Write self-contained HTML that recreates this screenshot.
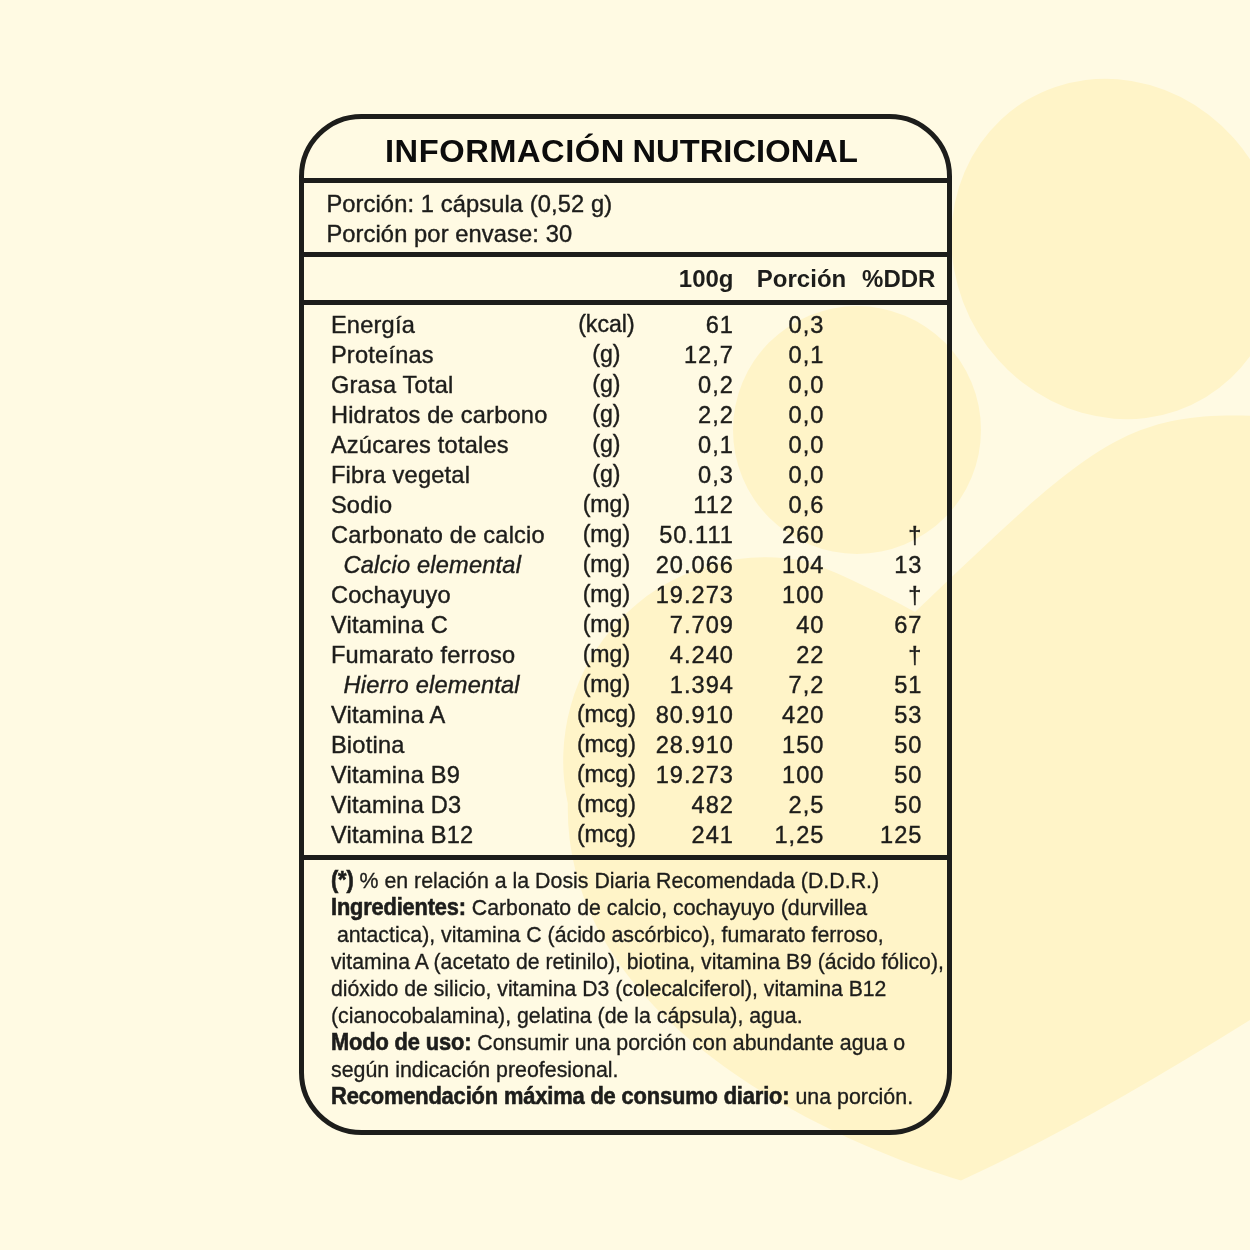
<!DOCTYPE html>
<html lang="es">
<head>
<meta charset="utf-8">
<title>Información Nutricional</title>
<style>
  html, body { margin: 0; padding: 0; }
  body {
    width: 1250px; height: 1250px; overflow: hidden; position: relative;
    background: #fffae3;
    font-family: "Liberation Sans", sans-serif;
    color: #1d1d1b;
  }
  svg.bg { position: absolute; left: 0; top: 0; width: 1250px; height: 1250px; display: block; }
  .card {
    position: absolute; left: 299.3px; top: 113.8px; width: 652.8px; height: 1021.2px;
    box-sizing: border-box; border: 5px solid #1d1d1b; border-radius: 62.5px;
  }
  .rule { position: absolute; left: 302px; width: 648px; height: 4.9px; background: #1d1d1b; }
  .t { position: absolute; white-space: pre; margin: 0; }
  h1.t {
    left: 385.2px; top: 130.9px; height: 40px; line-height: 40px;
    font-size: 30.5px; font-weight: 700; color: #0c0c0c; word-spacing: -1.5px;
    transform: scaleX(1.0706); transform-origin: 0 0;
  }
  h1 .w1 { letter-spacing: 0.5px; }
  h1 .w2 { letter-spacing: 0.06px; }
  .serving { left: 326.4px; font-size: 23.7px; line-height: 30px; height: 30px; letter-spacing: 0.1px; -webkit-text-stroke: 0.4px #1d1d1b; }
  .hd { font-size: 24px; font-weight: 700; line-height: 30px; height: 30px; top: 263.7px; text-align: right; }
  .row { position: absolute; left: 0; width: 1250px; height: 30px; line-height: 30px; font-size: 23.6px; -webkit-text-stroke: 0.4px #1d1d1b; }
  .row span { position: absolute; top: 0; white-space: pre; }
  .row .n { left: 330.9px; letter-spacing: 0.22px; }
  .row .n.i { left: 343.5px; font-style: italic; letter-spacing: 0.2px; }
  .row .u { left: 546.4px; width: 120px; text-align: center; top: -1.4px; font-size: 23.1px; }
  .row .a, .row .b, .row .c { text-align: right; letter-spacing: 1.0px; }
  .row .a { right: 516.1px; }
  .row .b { right: 425.6px; }
  .row .c { right: 327.6px; }
  .foot {
    position: absolute; left: 331.2px; top: 866.9px; width: 700px;
    font-size: 22.9px; line-height: 27px; -webkit-text-stroke: 0.35px #1d1d1b;
  }
  .fl { height: 27px; white-space: pre; transform-origin: 0 0; }
  .foot b { font-weight: 700; font-size: 23.4px; letter-spacing: -0.15px; -webkit-text-stroke: 0.6px #1d1d1b; }
</style>
</head>
<body>
<svg class="bg" viewBox="0 0 1250 1250" aria-hidden="true">
  <g fill="#fff4c8">
    <ellipse cx="1115.9" cy="248.9" rx="173.4" ry="161.3" transform="rotate(58.8 1115.9 248.9)"/>
    <circle cx="857" cy="430" r="124"/>
    <path d="M915 612 C1095.3 439.7 1126.9 408.7 1270 416.6 L1270 1007.4 Q1081 1126.4 961 1180.4 C864.5 1152.8 563.6 1034.6 567.8 803.5 A203.3 203.3 0 0 1 800 560 C819.7 563.3 880 592.7 915 612 Z"/>
  </g>
</svg>

<div class="card"></div>
<div class="rule" style="top:178.3px"></div>
<div class="rule" style="top:251.9px"></div>
<div class="rule" style="top:300.2px"></div>
<div class="rule" style="top:854.8px"></div>

<h1 class="t"><span class="w1">INFORMACIÓN</span> <span class="w2">NUTRICIONAL</span></h1>

<p class="t serving" style="top:189.1px">Porción: 1 cápsula (0,52 g)</p>
<p class="t serving" style="top:219.1px">Porción por envase: 30</p>

<div class="t hd" style="right:516.5px">100g</div>
<div class="t hd" style="right:403.8px">Porción</div>
<div class="t hd" style="right:314.6px">%DDR</div>

<div class="row" style="top:310.25px"><span class="n">Energía</span><span class="u">(kcal)</span><span class="a">61</span><span class="b">0,3</span></div>
<div class="row" style="top:340.25px"><span class="n">Proteínas</span><span class="u">(g)</span><span class="a">12,7</span><span class="b">0,1</span></div>
<div class="row" style="top:370.25px"><span class="n">Grasa Total</span><span class="u">(g)</span><span class="a">0,2</span><span class="b">0,0</span></div>
<div class="row" style="top:400.25px"><span class="n">Hidratos de carbono</span><span class="u">(g)</span><span class="a">2,2</span><span class="b">0,0</span></div>
<div class="row" style="top:430.25px"><span class="n">Azúcares totales</span><span class="u">(g)</span><span class="a">0,1</span><span class="b">0,0</span></div>
<div class="row" style="top:460.25px"><span class="n">Fibra vegetal</span><span class="u">(g)</span><span class="a">0,3</span><span class="b">0,0</span></div>
<div class="row" style="top:490.25px"><span class="n">Sodio</span><span class="u">(mg)</span><span class="a">112</span><span class="b">0,6</span></div>
<div class="row" style="top:520.25px"><span class="n">Carbonato de calcio</span><span class="u">(mg)</span><span class="a">50.111</span><span class="b">260</span><span class="c">†</span></div>
<div class="row" style="top:550.25px"><span class="n i">Calcio elemental</span><span class="u">(mg)</span><span class="a">20.066</span><span class="b">104</span><span class="c">13</span></div>
<div class="row" style="top:580.25px"><span class="n">Cochayuyo</span><span class="u">(mg)</span><span class="a">19.273</span><span class="b">100</span><span class="c">†</span></div>
<div class="row" style="top:610.25px"><span class="n">Vitamina C</span><span class="u">(mg)</span><span class="a">7.709</span><span class="b">40</span><span class="c">67</span></div>
<div class="row" style="top:640.25px"><span class="n">Fumarato ferroso</span><span class="u">(mg)</span><span class="a">4.240</span><span class="b">22</span><span class="c">†</span></div>
<div class="row" style="top:670.25px"><span class="n i">Hierro elemental</span><span class="u">(mg)</span><span class="a">1.394</span><span class="b">7,2</span><span class="c">51</span></div>
<div class="row" style="top:700.25px"><span class="n">Vitamina A</span><span class="u">(mcg)</span><span class="a">80.910</span><span class="b">420</span><span class="c">53</span></div>
<div class="row" style="top:730.25px"><span class="n">Biotina</span><span class="u">(mcg)</span><span class="a">28.910</span><span class="b">150</span><span class="c">50</span></div>
<div class="row" style="top:760.25px"><span class="n">Vitamina B9</span><span class="u">(mcg)</span><span class="a">19.273</span><span class="b">100</span><span class="c">50</span></div>
<div class="row" style="top:790.25px"><span class="n">Vitamina D3</span><span class="u">(mcg)</span><span class="a">482</span><span class="b">2,5</span><span class="c">50</span></div>
<div class="row" style="top:820.25px"><span class="n">Vitamina B12</span><span class="u">(mcg)</span><span class="a">241</span><span class="b">1,25</span><span class="c">125</span></div>

<div class="foot">
<div class="fl" style="transform:scaleX(0.9324)"><b>(*)</b> % en relación a la Dosis Diaria Recomendada (D.D.R.)</div>
<div class="fl" style="transform:scaleX(0.9304)"><b>Ingredientes:</b> Carbonato de calcio, cochayuyo (durvillea</div>
<div class="fl" style="transform:scaleX(0.9302)"> antactica), vitamina C (ácido ascórbico), fumarato ferroso,</div>
<div class="fl" style="transform:scaleX(0.9263)">vitamina A (acetato de retinilo), biotina, vitamina B9 (ácido fólico),</div>
<div class="fl" style="transform:scaleX(0.9269)">dióxido de silicio, vitamina D3 (colecalciferol), vitamina B12</div>
<div class="fl" style="transform:scaleX(0.9312)">(cianocobalamina), gelatina (de la cápsula), agua.</div>
<div class="fl" style="transform:scaleX(0.9340)"><b>Modo de uso:</b> Consumir una porción con abundante agua o</div>
<div class="fl" style="transform:scaleX(0.9334)">según indicación preofesional.</div>
<div class="fl" style="transform:scaleX(0.9343)"><b>Recomendación máxima de consumo diario:</b> una porción.</div>
</div>
</body>
</html>
